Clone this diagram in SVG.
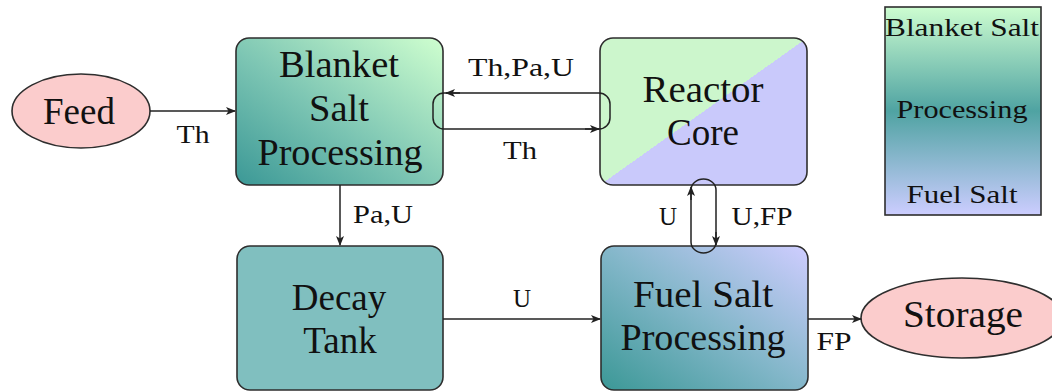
<svg xmlns="http://www.w3.org/2000/svg" width="1052" height="392" viewBox="0 0 1052 392">
<style>
.box{stroke:#2e2e2e;stroke-width:1.6}
.ell{fill:#fbcccc;stroke:#2e2e2e;stroke-width:1.6}
text{font-family:'Liberation Serif','DejaVu Serif','Times New Roman',serif;fill:#111;text-anchor:middle}
.nt{font-size:37px}
.lt{font-size:25px}
.gt{font-size:25px}
.ln{fill:none;stroke:#222;stroke-width:1.5}
</style>
<defs>
<marker id="arr" viewBox="0 0 10 10" refX="9" refY="5" markerWidth="10" markerHeight="10" markerUnits="userSpaceOnUse" orient="auto">
<path d="M0,1 L10,5 L0,9 L2.5,5 Z" fill="#222"/>
</marker>
<linearGradient id="gBlanket" x1="0" y1="1" x2="1" y2="0">
<stop offset="0" stop-color="#3b9896"/>
<stop offset="0.45" stop-color="#7cc5b3"/>
<stop offset="1" stop-color="#cfffcf"/>
</linearGradient>
<linearGradient id="gFuel" x1="0" y1="1" x2="1" y2="0">
<stop offset="0" stop-color="#3b9896"/>
<stop offset="0.5" stop-color="#84b7ca"/>
<stop offset="1" stop-color="#cfcdff"/>
</linearGradient>
<linearGradient id="gReactor" x1="0" y1="0" x2="1" y2="1">
<stop offset="0.5" stop-color="#ccf6cc"/>
<stop offset="0.5" stop-color="#c9c9fb"/>
</linearGradient>
<linearGradient id="gLegend" x1="0" y1="0" x2="0" y2="1">
<stop offset="0" stop-color="#cdfdd0"/>
<stop offset="0.5" stop-color="#4fa3a2"/>
<stop offset="1" stop-color="#cccdff"/>
</linearGradient>
</defs>

<g id="feed">
<ellipse class="ell" cx="81" cy="111" rx="69" ry="37"/>
<text class="nt" x="79" y="124">Feed</text>
</g>

<g id="blanket">
<rect class="box" x="236" y="38" width="207" height="147" rx="13" fill="url(#gBlanket)"/>
<text class="nt" x="339" y="77" textLength="120" lengthAdjust="spacingAndGlyphs">Blanket</text>
<text class="nt" x="339" y="121" textLength="60" lengthAdjust="spacingAndGlyphs">Salt</text>
<text class="nt" x="340" y="165" textLength="165" lengthAdjust="spacingAndGlyphs">Processing</text>
</g>

<g id="reactor">
<rect class="box" x="600" y="38" width="207" height="147" rx="13" fill="url(#gReactor)"/>
<text class="nt" x="703" y="102" textLength="121" lengthAdjust="spacingAndGlyphs">Reactor</text>
<text class="nt" x="703" y="145">Core</text>
</g>

<g id="decay">
<rect class="box" x="237" y="246" width="206" height="144" rx="13" fill="#80bfbf"/>
<text class="nt" x="339" y="310">Decay</text>
<text class="nt" x="340" y="353">Tank</text>
</g>

<g id="fuel">
<rect class="box" x="601" y="246" width="207" height="144" rx="13" fill="url(#gFuel)"/>
<text class="nt" x="703" y="307" textLength="140" lengthAdjust="spacingAndGlyphs">Fuel Salt</text>
<text class="nt" x="703" y="350" textLength="165" lengthAdjust="spacingAndGlyphs">Processing</text>
</g>

<g id="storage">
<ellipse class="ell" cx="962" cy="318" rx="101" ry="40"/>
<text class="nt" x="963" y="327" textLength="120" lengthAdjust="spacingAndGlyphs">Storage</text>
</g>

<g id="legend">
<rect x="885" y="7" width="156" height="208" fill="url(#gLegend)" stroke="#2e2e2e" stroke-width="1.6"/>
<text class="gt" x="962" y="36" textLength="154" lengthAdjust="spacingAndGlyphs">Blanket Salt</text>
<text class="gt" x="962" y="118" textLength="131" lengthAdjust="spacingAndGlyphs">Processing</text>
<text class="gt" x="962" y="203" textLength="111" lengthAdjust="spacingAndGlyphs">Fuel Salt</text>
</g>

<g id="connectors">
<path class="ln" d="M150,111 L235,111" marker-end="url(#arr)"/>
<text class="lt" x="193" y="143" textLength="33" lengthAdjust="spacingAndGlyphs">Th</text>

<rect class="ln" x="433" y="93" width="177" height="36" rx="11" ry="11"/>
<path class="ln" d="M460,93 L446,93" marker-end="url(#arr)"/>
<path class="ln" d="M585,129 L599,129" marker-end="url(#arr)"/>
<text class="lt" x="521" y="76" textLength="106" lengthAdjust="spacingAndGlyphs">Th,Pa,U</text>
<text class="lt" x="520" y="159" textLength="34" lengthAdjust="spacingAndGlyphs">Th</text>

<path class="ln" d="M340,185 L340,245" marker-end="url(#arr)"/>
<text class="lt" x="383" y="223" textLength="60" lengthAdjust="spacingAndGlyphs">Pa,U</text>

<path class="ln" d="M443,319 L600,319" marker-end="url(#arr)"/>
<text class="lt" x="522" y="307">U</text>

<rect class="ln" x="691" y="179" width="25" height="74" rx="12.5" ry="11"/>
<path class="ln" d="M691,200 L691,187" marker-end="url(#arr)"/>
<path class="ln" d="M716,232 L716,245" marker-end="url(#arr)"/>
<text class="lt" x="668" y="225">U</text>
<text class="lt" x="762" y="225" textLength="61" lengthAdjust="spacingAndGlyphs">U,FP</text>

<path class="ln" d="M808,319 L861,319" marker-end="url(#arr)"/>
<text class="lt" x="834" y="350" textLength="35" lengthAdjust="spacingAndGlyphs">FP</text>
</g>
</svg>
